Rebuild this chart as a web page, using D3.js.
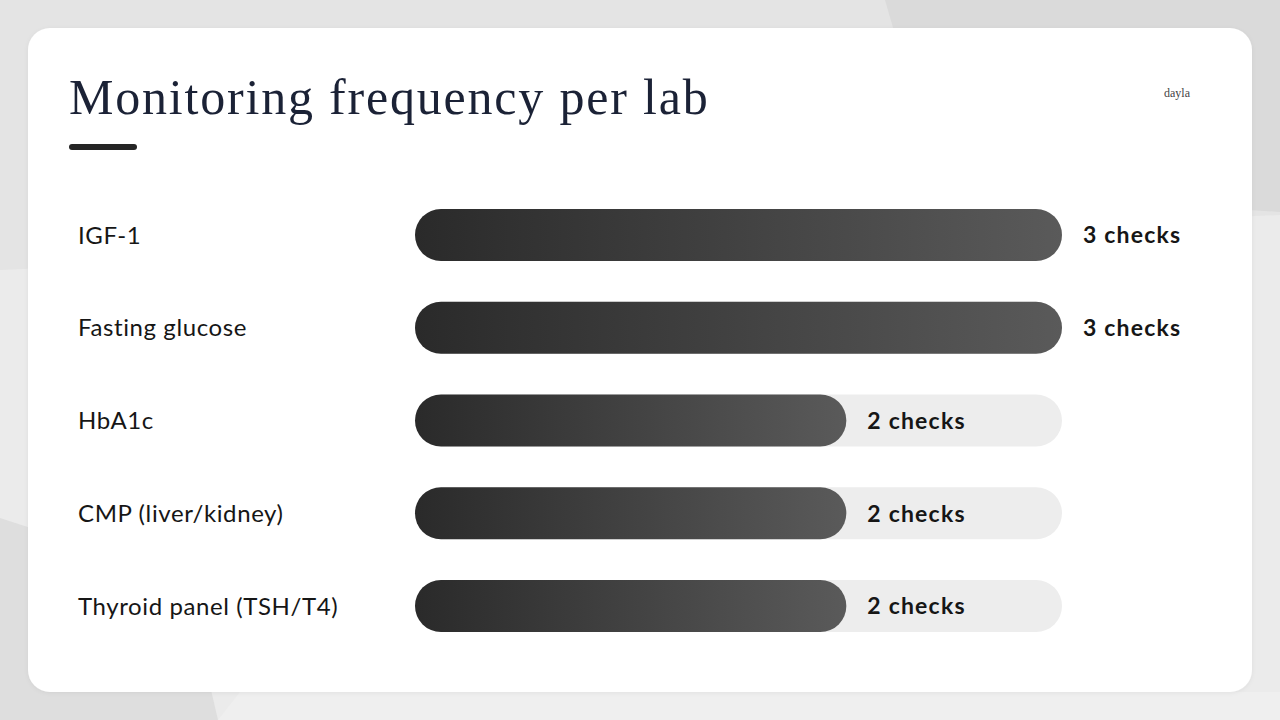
<!DOCTYPE html>
<html>
<head>
<meta charset="utf-8">
<script src="https://cdn.jsdelivr.net/npm/d3@7"></script>
<style>
  html, body { margin: 0; padding: 0; background: #e4e4e4; }
  svg { display: block; }
</style>
</head>
<body>
<script>
// chart data
var labs = ["IGF-1", "Fasting glucose", "HbA1c", "CMP (liver/kidney)", "Thyroid panel (TSH/T4)"];
var checks = [3, 3, 2, 2, 2];
var maxChecks = 3;

var W = 1280, H = 720;

var svg = d3.select("body").append("svg")
    .attr("width", W)
    .attr("height", H);

var defs = svg.append("defs");

// soft background shapes
svg.append("rect").attr("width", W).attr("height", H).attr("fill", "#e4e4e4");
svg.append("polygon")
    .attr("points", "0,270 1280,215 1280,720 0,720")
    .attr("fill", "#ebebeb");
svg.append("polygon")
    .attr("points", "885,0 1280,0 1280,212 940,190")
    .attr("fill", "#dadada");
svg.append("polygon")
    .attr("points", "0,518 185,578 218,720 0,720")
    .attr("fill", "#dedede");
svg.append("polygon")
    .attr("points", "218,720 240,692 1280,692 1280,720")
    .attr("fill", "#efefef");

// card shadow + card
var shadow = defs.append("filter").attr("id", "shadow")
    .attr("x", "-5%").attr("y", "-5%").attr("width", "110%").attr("height", "110%");
shadow.append("feDropShadow")
    .attr("dx", 0).attr("dy", 1).attr("stdDeviation", 2)
    .attr("flood-color", "#000").attr("flood-opacity", 0.06);

svg.append("rect")
    .attr("x", 28).attr("y", 28)
    .attr("width", 1224).attr("height", 664)
    .attr("rx", 22)
    .attr("fill", "#ffffff")
    .attr("filter", "url(#shadow)");

// title
svg.append("text")
    .attr("x", 69).attr("y", 114)
    .attr("font-family", "'Liberation Serif', 'DejaVu Serif', serif")
    .attr("font-size", "50px")
    .attr("letter-spacing", "1.8px")
    .attr("fill", "#1b2236")
    .text("Monitoring frequency per lab");

svg.append("rect")
    .attr("x", 69).attr("y", 144)
    .attr("width", 68).attr("height", 6)
    .attr("rx", 3)
    .attr("fill", "#252525");

// logo
svg.append("text")
    .attr("x", 1177).attr("y", 97)
    .attr("text-anchor", "middle")
    .attr("font-family", "'Liberation Serif', serif")
    .attr("font-size", "12px")
    .attr("fill", "#444")
    .text("dayla");

// scales
var x = d3.scaleLinear().domain([0, maxChecks]).range([415, 1062]);
var y = d3.scalePoint().domain(labs).range([235, 606]);
var barH = 52;

var grad = defs.append("linearGradient").attr("id", "barGrad")
    .attr("x1", "0%").attr("x2", "100%").attr("y1", "0%").attr("y2", "0%");
grad.append("stop").attr("offset", "0%").attr("stop-color", "#2a2a2a");
grad.append("stop").attr("offset", "100%").attr("stop-color", "#5a5a5a");

var rows = svg.append("g").selectAll("g")
    .data(labs)
    .enter().append("g");

// track
rows.append("rect")
    .attr("x", x(0))
    .attr("y", function(d) { return y(d) - barH / 2; })
    .attr("width", x(maxChecks) - x(0))
    .attr("height", barH)
    .attr("rx", barH / 2)
    .attr("fill", "#ededed");

// bar
rows.append("rect")
    .attr("x", x(0))
    .attr("y", function(d) { return y(d) - barH / 2; })
    .attr("width", function(d, i) { return x(checks[i]) - x(0); })
    .attr("height", barH)
    .attr("rx", barH / 2)
    .attr("fill", "url(#barGrad)");

// category labels
rows.append("text")
    .attr("x", 78)
    .attr("y", function(d) { return y(d); })
    .attr("dy", "0.36em")
    .attr("font-family", "Lato, 'Open Sans', sans-serif")
    .attr("font-size", "24px")
    .attr("letter-spacing", "0.6px")
    .attr("fill", "#161616")
    .text(function(d) { return d; });

// value labels
rows.append("text")
    .attr("x", function(d, i) { return x(checks[i]) + 21; })
    .attr("y", function(d) { return y(d); })
    .attr("dy", "0.36em")
    .attr("font-family", "Lato, 'Open Sans', sans-serif")
    .attr("font-weight", "bold")
    .attr("font-size", "23px")
    .attr("letter-spacing", "1.2px")
    .attr("fill", "#161616")
    .text(function(d, i) { return checks[i] + " checks"; });
</script>
</body>
</html>
